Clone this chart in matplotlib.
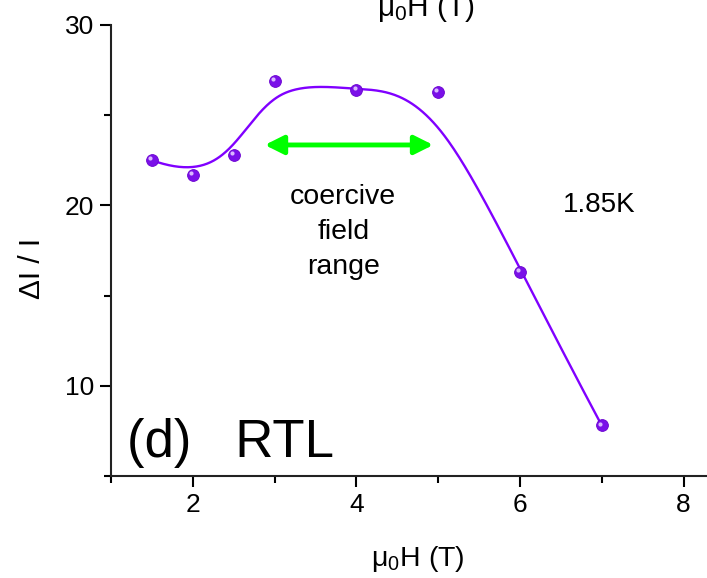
import numpy as np
import matplotlib
matplotlib.use("Agg")
import matplotlib.pyplot as plt
from matplotlib.transforms import ScaledTranslation

plt.rcParams['font.family'] = ['Liberation Sans', 'DejaVu Sans']
plt.rcParams['mathtext.fontset'] = 'custom'
plt.rcParams['mathtext.rm'] = 'Liberation Sans'
plt.rcParams['mathtext.it'] = 'Liberation Sans'

# data
field = [1.5, 2.0, 2.5, 3.0, 4.0, 5.0, 6.0, 7.0]      # mu0 H (T)
dI = [22.5, 21.7, 22.8, 26.9, 26.4, 26.3, 16.3, 7.8]  # dI / I
x_ticks = [2, 4, 6, 8]
y_ticks = [10, 20, 30]
arrow_x = [2.88, 4.94]
arrow_y = 23.35

purple = '#8000ff'

# clamped cubic B-spline with the points as control points (like Origin's B-spline line)
def bspline(px, py, k=3, num=400):
    n = len(px)
    knots = np.concatenate([np.zeros(k), np.arange(n - k + 1), np.full(k, n - k)]).astype(float)
    t = np.linspace(0, n - k, num)
    t[-1] -= 1e-9
    def basis(i, d, t):
        if d == 0:
            return ((knots[i] <= t) & (t < knots[i + 1])).astype(float)
        out = np.zeros_like(t)
        if knots[i + d] != knots[i]:
            out += (t - knots[i]) / (knots[i + d] - knots[i]) * basis(i, d - 1, t)
        if knots[i + d + 1] != knots[i + 1]:
            out += (knots[i + d + 1] - t) / (knots[i + d + 1] - knots[i + 1]) * basis(i + 1, d - 1, t)
        return out
    B = np.array([basis(i, k, t) for i in range(n)])
    return B.T @ np.array(px), B.T @ np.array(py)

fig = plt.figure(figsize=(7.07, 5.78), dpi=100)
ax = fig.add_axes([111 / 707, 1 - 476 / 578, (713 - 111) / 707, (476 - 25) / 578])

sx, sy = bspline(field, dI)
ax.plot(sx, sy, color=purple, lw=1.7, zorder=2)
ax.plot(field, dI, 'o', ms=8.5, color='#7a10e8', mec='#6a00d0', mew=0.6, zorder=3)
# small highlight to get the shiny ball look
hl = ax.transData + ScaledTranslation(-1.3 / 72, 1.3 / 72, fig.dpi_scale_trans)
ax.plot(field, dI, 'o', ms=3, color='#d9b8ff', mec='none', transform=hl, zorder=4)

ax.annotate('', xy=(arrow_x[0], arrow_y), xytext=(arrow_x[1], arrow_y),
            arrowprops=dict(arrowstyle='<|-|>', color='#00ff00', lw=3.5,
                            mutation_scale=28, shrinkA=0, shrinkB=0))

ax.text(3.84, 18.55, 'coercive\nfield\nrange', ha='center', va='center',
        fontsize=20.5, linespacing=1.45)
ax.text(6.97, 20.0, '1.85K', ha='center', va='center', fontsize=20)
ax.text(1.2, 6.06, '(d)   RTL', ha='left', va='baseline', fontsize=38)

ax.set_xlim(1, 8.36)
ax.set_ylim(5, 30)
ax.set_xticks(x_ticks)
ax.set_xticks([1, 3, 5, 7], minor=True)
ax.set_yticks(y_ticks)
ax.set_yticks([5, 15, 25], minor=True)
ax.tick_params(which='major', direction='out', length=8, width=1.5, labelsize=19, pad=4)
ax.tick_params(which='minor', direction='out', length=5, width=1.5)
ax.spines['top'].set_visible(False)
ax.spines['right'].set_visible(False)
ax.spines['left'].set_linewidth(1.5)
ax.spines['bottom'].set_linewidth(1.5)
ax.spines['left'].set_color('#222222')
ax.spines['bottom'].set_color('#222222')

ax.set_xlabel(r'$\mathregular{\mu_0}$H (T)', fontsize=20.5)
ax.xaxis.set_label_coords((418 - 111) / 602, -(566 - 476) / 451, transform=ax.transAxes)
ax.xaxis.label.set_va('baseline')
ax.set_ylabel('ΔI / I', fontsize=21.5)
ax.yaxis.set_label_coords(-(111 - 32) / 602, (476 - 268) / 451, transform=ax.transAxes)
ax.yaxis.label.set_va('center')
fig.text(426 / 707, 1 - 16 / 578, r'$\mathregular{\mu_0}$H (T)', ha='center',
         va='baseline', fontsize=21.5)

fig.savefig('out.png', dpi=100)
